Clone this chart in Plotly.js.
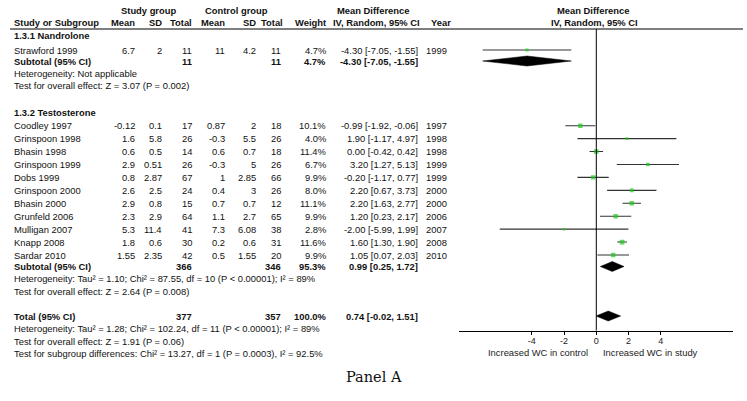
<!DOCTYPE html>
<html>
<head>
<meta charset="utf-8">
<script src="https://cdn.plot.ly/plotly-3.0.1.min.js"></script>
<style>html,body{margin:0;padding:0;background:#fff}#chart{width:747px;height:401px}</style>
</head>
<body>
<div id="chart"></div>
<script>
// ---------- DATA ----------
const group1Label = '1.3.1 Nandrolone';
const group2Label = '1.3.2 Testosterone';

const g1Studies = ['Strawford 1999'];
const g1StudyMean = [6.7];
const g1StudySD = [2];
const g1StudyN = [11];
const g1CtrlMean = [11];
const g1CtrlSD = [4.2];
const g1CtrlN = [11];
const g1Weight = [4.7];
const g1MD = [-4.30];
const g1Lo = [-7.05];
const g1Hi = [-1.55];
const g1Year = [1999];

const g2Studies = ['Coodley 1997','Grinspoon 1998','Bhasin 1998','Grinspoon 1999','Dobs 1999','Grinspoon 2000','Bhasin 2000','Grunfeld 2006','Mulligan 2007','Knapp 2008','Sardar 2010'];
const g2StudyMean = [-0.12,1.6,0.6,2.9,0.8,2.6,2.9,2.3,5.3,1.8,1.55];
const g2StudySD = [0.1,5.8,0.5,0.51,2.87,2.5,0.8,2.9,11.4,0.6,2.35];
const g2StudyN = [17,26,14,26,67,24,15,64,41,30,42];
const g2CtrlMean = [0.87,-0.3,0.6,-0.3,1,0.4,0.7,1.1,7.3,0.2,0.5];
const g2CtrlSD = [2,5.5,0.7,5,2.85,3,0.7,2.7,6.08,0.6,1.55];
const g2CtrlN = [18,26,18,26,66,26,12,65,38,31,20];
const g2Weight = [10.1,4.0,11.4,6.7,9.9,8.0,11.1,9.9,2.8,11.6,9.9];
const g2MD = [-0.99,1.90,0.00,3.20,-0.20,2.20,2.20,1.20,-2.00,1.60,1.05];
const g2Lo = [-1.92,-1.17,-0.42,1.27,-1.17,0.67,1.63,0.23,-5.99,1.30,0.07];
const g2Hi = [-0.06,4.97,0.42,5.13,0.77,3.73,2.77,2.17,1.99,1.90,2.03];
const g2Year = [1997,1998,1998,1999,1999,2000,2000,2006,2007,2008,2010];

const sub1 = {label:'Subtotal (95% CI)', sN:11, cN:11, w:4.7, md:-4.30, lo:-7.05, hi:-1.55};
const sub2 = {label:'Subtotal (95% CI)', sN:366, cN:346, w:95.3, md:0.99, lo:0.25, hi:1.72};
const total = {label:'Total (95% CI)', sN:377, cN:357, w:100.0, md:0.74, lo:-0.02, hi:1.51};

const het1 = ['Heterogeneity: Not applicable', 'Test for overall effect: Z = 3.07 (P = 0.002)'];
const het2 = ['Heterogeneity: Tau² = 1.10; Chi² = 87.55, df = 10 (P < 0.00001); I² = 89%', 'Test for overall effect: Z = 2.64 (P = 0.008)'];
const hetT = ['Heterogeneity: Tau² = 1.28; Chi² = 102.24, df = 11 (P < 0.00001); I² = 89%', 'Test for overall effect: Z = 1.91 (P = 0.06)', 'Test for subgroup differences: Chi² = 13.27, df = 1 (P = 0.0003), I² = 92.5%'];

const xTicks = [-4,-2,0,2,4];
const favLeft = 'Increased WC in control';
const favRight = 'Increased WC in study';
const panelLabel = 'Panel A';

// ---------- LAYOUT GEOMETRY (pixels) ----------
const W = 747, H = 401;
const FONT = 'Liberation Sans, Arial, sans-serif';
const FS = 9.4;
const TXT = '#111';
const px = v => v / W;

const col = {name:11.5, sMean:136.5, sSD:163.5, sN:194, cMean:227, cSD:257.5, cN:283, w:327.5, ci:419.5, year:424};

const rowG1Head = 35, rowG1 = [50], rowSub1 = 61, rowHet1 = [73, 85.5];
const rowG2Head = 112;
const rowG2 = g2Studies.map((_, i) => 125.7 + i * 12.93);
const rowSub2 = 266.5, rowHet2 = [278.5, 291], rowTot = 316, rowHetT = [328.5, 341, 353.5];

const ann = [];
function t(text, x, y, anchor, bold, opts) {
  ann.push(Object.assign({text: bold ? '<b>' + text + '</b>' : text, x: px(x), xref:'paper', y: y, yref:'y',
    xanchor: anchor, yanchor:'middle', showarrow:false,
    font:{family:FONT, size:FS, color:TXT}}, opts || {}));
}
const fmt2 = v => v.toFixed(2);
const ciStr = (m, l, h) => fmt2(m) + ' [' + fmt2(l) + ', ' + fmt2(h) + ']';

// header
t('Study group', 148, 10, 'center', true);
t('Control group', 236.5, 10, 'center', true);
t('Mean Difference', 373, 10, 'center', true);
t('Mean Difference', 593, 10, 'center', true);
t('Study or Subgroup', col.name, 22, 'left', true);
t('Mean', col.sMean, 22, 'right', true);
t('SD', col.sSD, 22, 'right', true);
t('Total', col.sN, 22, 'right', true);
t('Mean', col.cMean, 22, 'right', true);
t('SD', col.cSD, 22, 'right', true);
t('Total', col.cN + 2, 22, 'right', true);
t('Weight', col.w, 22, 'right', true);
t('IV, Random, 95% CI', 377, 22, 'center', true);
t('Year', 429, 22, 'left', true);
t('IV, Random, 95% CI', 594, 22, 'center', true);

function studyRows(names, sM, sSD, sN, cM, cSD, cN, w, md, lo, hi, yr, rows) {
  names.forEach((n, i) => {
    const y = rows[i];
    t(n, col.name, y, 'left');
    t(String(sM[i]), col.sMean, y, 'right');
    t(String(sSD[i]), col.sSD, y, 'right');
    t(String(sN[i]), col.sN, y, 'right');
    t(String(cM[i]), col.cMean, y, 'right');
    t(String(cSD[i]), col.cSD, y, 'right');
    t(String(cN[i]), col.cN, y, 'right');
    t(w[i].toFixed(1) + '%', col.w, y, 'right');
    t(ciStr(md[i], lo[i], hi[i]), col.ci, y, 'right');
    t(String(yr[i]), col.year, y, 'left');
  });
}
function subRow(s, y) {
  t(s.label, col.name, y, 'left', true);
  t(String(s.sN), col.sN, y, 'right', true);
  t(String(s.cN), col.cN, y, 'right', true);
  t(s.w.toFixed(1) + '%', col.w, y, 'right', true);
  t(ciStr(s.md, s.lo, s.hi), col.ci, y, 'right', true);
}

t(group1Label, col.name, rowG1Head, 'left', true);
studyRows(g1Studies, g1StudyMean, g1StudySD, g1StudyN, g1CtrlMean, g1CtrlSD, g1CtrlN, g1Weight, g1MD, g1Lo, g1Hi, g1Year, rowG1);
subRow(sub1, rowSub1);
het1.forEach((s, i) => t(s, col.name, rowHet1[i], 'left'));

t(group2Label, col.name, rowG2Head, 'left', true);
studyRows(g2Studies, g2StudyMean, g2StudySD, g2StudyN, g2CtrlMean, g2CtrlSD, g2CtrlN, g2Weight, g2MD, g2Lo, g2Hi, g2Year, rowG2);
subRow(sub2, rowSub2);
het2.forEach((s, i) => t(s, col.name, rowHet2[i], 'left'));

subRow(total, rowTot);
hetT.forEach((s, i) => t(s, col.name, rowHetT[i], 'left'));

t(favLeft, 590, 352.5, 'right', false, {font:{family:FONT, size:FS, color:'#222'}});
t(favRight, 600.5, 352.5, 'left', false, {font:{family:FONT, size:FS, color:'#222'}});
t(panelLabel, 373.5, 377, 'center', false, {font:{family:'DejaVu Serif, Liberation Serif, serif', size:14.5, color:'#111'}});

// ---------- TRACES ----------
const allMD = g1MD.concat(g2MD);
const allLo = g1Lo.concat(g2Lo);
const allHi = g1Hi.concat(g2Hi);
const allW = g1Weight.concat(g2Weight);
const allY = rowG1.concat(rowG2);

const traces = [];
traces.push({
  type:'scatter', mode:'markers', x: allMD, y: allY,
  marker:{symbol:'square', color:'#1ec81e', size: allW.map(w => 1.25 * Math.sqrt(w) + 0.4), line:{width:0}},
  error_x:{type:'data', symmetric:false,
    array: allHi.map((h, i) => h - allMD[i]),
    arrayminus: allMD.map((m, i) => m - allLo[i]),
    width:0, thickness:1.1, color:'#333'},
  hoverinfo:'skip', showlegend:false
});
function diamond(s, y) {
  const h = 5;
  traces.push({type:'scatter', mode:'lines', x:[s.lo, s.md, s.hi, s.md, s.lo], y:[y, y - h, y, y + h, y],
    fill:'toself', fillcolor:'#000', line:{width:0.5, color:'#000'}, hoverinfo:'skip', showlegend:false});
}
diamond(sub1, rowSub1);
diamond(sub2, rowSub2);
diamond(total, rowTot);

const axisY = 330.5;
const layout = {
  width: W, height: H,
  margin:{l:0, r:0, t:0, b:0},
  paper_bgcolor:'#fff', plot_bgcolor:'rgba(0,0,0,0)',
  showlegend:false,
  xaxis:{domain:[px(459.3), px(733.3)], range:[-8.5, 8.5], anchor:'free', position: 1 - axisY / H,
    showline:true, linecolor:'#000', linewidth:1, ticks:'outside', ticklen:3, tickcolor:'#000', tickwidth:1,
    ticklabelstandoff:-1,
    tickvals: xTicks, ticktext: xTicks.map(String), showgrid:false, zeroline:false,
    tickfont:{family:FONT, size:9, color:'#222'}, fixedrange:true},
  yaxis:{domain:[0,1], range:[H, 0], visible:false, showgrid:false, zeroline:false, fixedrange:true},
  shapes:[
    {type:'line', xref:'paper', yref:'y', x0:px(10), x1:px(743), y0:29, y1:29, line:{color:'#000', width:1}},
    {type:'line', xref:'x', yref:'y', x0:0, x1:0, y0:29, y1:axisY, line:{color:'#000', width:1}}
  ],
  annotations: ann
};

Plotly.newPlot('chart', traces, layout, {staticPlot:true, displayModeBar:false});
</script>
</body>
</html>
